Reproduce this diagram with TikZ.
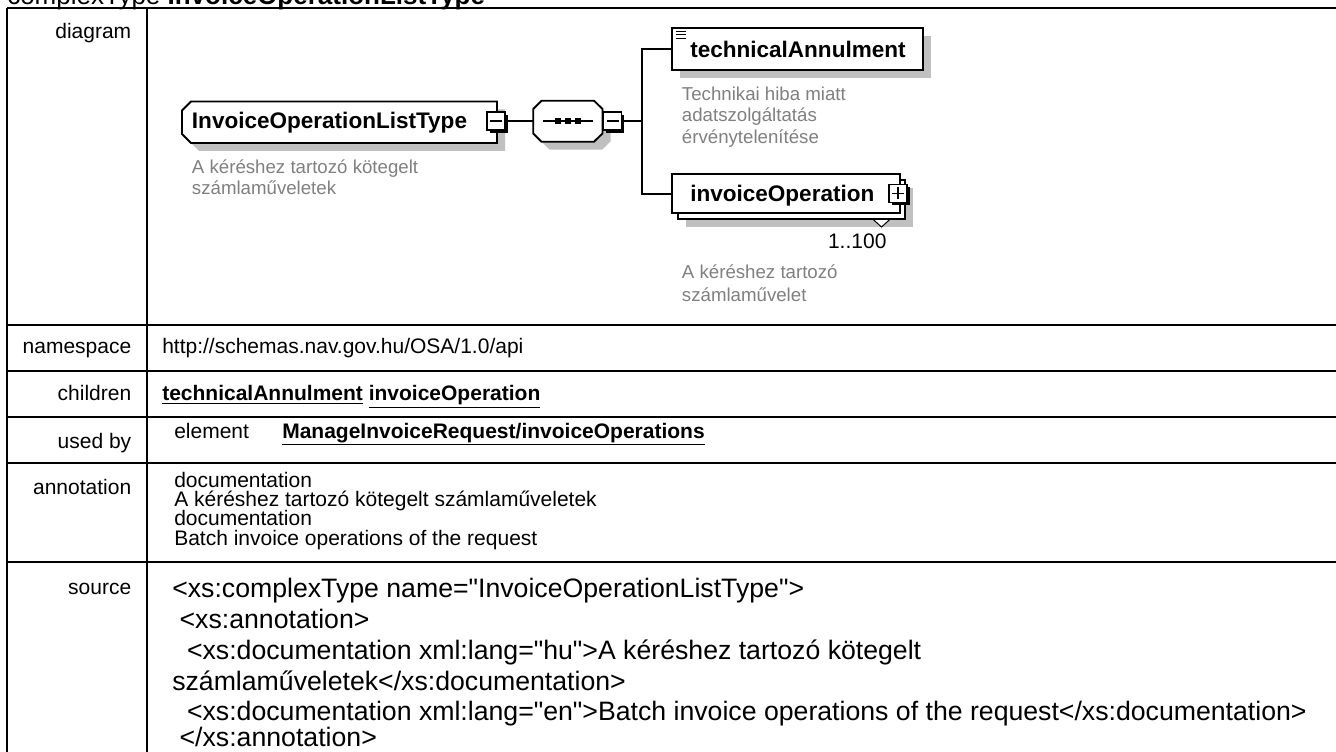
\documentclass[tikz,border=0pt]{standalone}
\usepackage{fontspec}
\setmainfont{Liberation Sans}[Ligatures=TeXOff]
\usetikzlibrary{shadows}
\definecolor{shadowgray}{RGB}{192,192,192}
\definecolor{descgray}{RGB}{128,128,128}
\newcommand\tblfont{\fontsize{15.75pt}{18pt}\selectfont}
\newcommand\srcfont{\fontsize{20pt}{23pt}\selectfont}
\newcommand\ttlfont{\fontsize{19.5pt}{22pt}\selectfont}
\newcommand\nmfont{\bfseries\fontsize{16.9pt}{19pt}\selectfont}
\newcommand\dscfont{\fontsize{14pt}{16.5pt}\selectfont}
\newcommand\occfont{\fontsize{15.75pt}{18pt}\selectfont}
\begin{document}
\begin{tikzpicture}[x=0.75pt,y=-0.75pt,
  tline/.style={line width=1.7pt},
  lbl/.style={anchor=base east, inner sep=0pt, font=\tblfont},
  cell/.style={anchor=base west, inner sep=0pt, font=\tblfont},
  src/.style={anchor=base west, inner sep=0pt, font=\srcfont},
  nm/.style={anchor=base west, inner sep=0pt, font=\nmfont},
  desc/.style={anchor=base west, inner sep=0pt, font=\dscfont, text=descgray},
  shd/.style={drop shadow={shadow xshift=6pt, shadow yshift=-6pt, fill=shadowgray, opacity=1}},
  elbox/.style={draw=black, line width=1.4pt, fill=white, inner sep=0pt},
  btn/.style={draw=black, line width=0.8pt, fill=white, minimum size=13.5pt, inner sep=0pt,
    drop shadow={shadow xshift=1.9pt, shadow yshift=-1.9pt, fill=black, opacity=1}},
  conn/.style={line width=1.4pt},
  sign/.style={line width=0.9pt},
]
\useasboundingbox (0,0) rectangle (1336,752);
\fill[white] (0,0) rectangle (1336,752);
\clip (0,0) rectangle (1336,752);

% title (cut off at top)
\node[anchor=base west, inner sep=0pt, font=\ttlfont] (title) at (7,5) {complexType \textbf{InvoiceOperationListType}};

% table grid
\draw[tline] (7,8) -- (1345,8);
\draw[tline] (7,8) -- (7,760);
\draw[tline] (147,8) -- (147,760);
\foreach \yy in {325,371,417,463,562} \draw[tline] (7,\yy) -- (1345,\yy);

% labels
\node[lbl] (lDiagram) at (131.5,39) {diagram};
\node[lbl] (lNs) at (131.5,354) {namespace};
\node[lbl] (lCh) at (131.5,401) {children};
\node[lbl] (lUb) at (131.5,448) {used by};
\node[lbl] (lAn) at (131.5,494) {annotation};
\node[lbl] (lSrc) at (131.5,594) {source};

% cells
\node[cell] (cNs) at (162,354) {http://schemas.nav.gov.hu/OSA/1.0/api};
\node[cell] (cCh) at (162,401) {\textbf{\underline{technicalAnnulment}} \textbf{\underline{invoiceOperation}}};
\node[cell] (cUbE) at (174,438) {element};
\node[cell] (cUbR) at (282,438) {\textbf{\underline{ManageInvoiceRequest/invoiceOperations}}};
\node[cell] (cAn1) at (174,487) {documentation};
\node[cell] (cAn2) at (174,506) {A kéréshez tartozó kötegelt számlaműveletek};
\node[cell] (cAn3) at (174,525.5) {documentation};
\node[cell] (cAn4) at (174,545) {Batch invoice operations of the request};

% source
\node[src] (s1) at (172,597) {<xs:complexType name="InvoiceOperationListType">};
\node[src] (s2) at (179.4,628) {<xs:annotation>};
\node[src] (s3) at (186.8,659) {<xs:documentation xml:lang="hu">A kéréshez tartozó kötegelt};
\node[src] (s4) at (172,690) {számlaműveletek</xs:documentation>};
\node[src] (s5) at (186.8,720.5) {<xs:documentation xml:lang="en">Batch invoice operations of the request</xs:documentation>};
\node[src] (s6) at (179.4,746) {</xs:annotation>};

% ---- diagram ----
% complex type box
\draw[line width=1.4pt, fill=white, shd] (182,110.5) -- (191,101.5) -- (497,101.5) -- (497,143) -- (191,143) -- (182,134) -- cycle;
\node[nm] (ctName) at (191.7,128.8) {InvoiceOperationListType};
\node[btn] (ctBtn) at (496,121) {};
\draw[sign] ([xshift=-4.5pt]ctBtn.center) -- ([xshift=4.5pt]ctBtn.center);
\node[desc] (ctD1) at (191.7,173.4) {A kéréshez tartozó kötegelt};
\node[desc] (ctD2) at (191.7,195) {számlaműveletek};

% sequence compositor
\coordinate (seqL) at (533.3,121);
\draw[conn] (ctBtn.east) -- (seqL);
\draw[line width=1.4pt, fill=white, shd] (533.3,109) -- (541.5,100.7) -- (594,100.7) -- (602.5,109) -- (602.5,133.5) -- (594,141.7) -- (541.5,141.7) -- (533.3,133.5) -- cycle;
\draw[line width=1.1pt] (543,121) -- (593,121);
\foreach \xx in {558.3,568.3,578.3} \fill (\xx,121) +(-3,-3) rectangle +(3,3);
\node[btn] (seqBtn) at (612.5,121) {};
\draw[sign] ([xshift=-4.5pt]seqBtn.center) -- ([xshift=4.5pt]seqBtn.center);
\coordinate (bus) at (641.7,121);
\draw[conn] (seqBtn.east) -- (bus);

% technicalAnnulment
\node[elbox, shd, minimum width=188.7pt, minimum height=31.3pt] (tA) at (797.5,49.2) {};
\node[nm] (tAName) at (690,57.4) {technicalAnnulment};
\foreach \yy in {31.7,35,38.3} \draw[line width=0.75pt] (676,\yy) -- (686,\yy);
\draw[conn] (tA.west) -| (bus);
\node[desc] (tAD1) at (681.7,100.7) {Technikai hiba miatt};
\node[desc] (tAD2) at (681.7,122) {adatszolgáltatás};
\node[desc] (tAD3) at (681.7,143.5) {érvénytelenítése};

% invoiceOperation
\node[elbox, shd, minimum width=170.25pt, minimum height=29.5pt] (iOback) at (791.5,199.7) {};
\node[elbox, minimum width=171.2pt, minimum height=29.5pt] (iO) at (785.85,193.65) {};
\node[nm] (iOName) at (690,201.4) {invoiceOperation};
\node[btn] (iOBtn) at (898,193.5) {};
\draw[sign] ([xshift=-4.5pt]iOBtn.center) -- ([xshift=4.5pt]iOBtn.center);
\draw[sign] ([yshift=-4.5pt]iOBtn.center) -- ([yshift=4.5pt]iOBtn.center);
\draw[line width=0.75pt, fill=white] (873,219.3) -- (890,219.3) -- (881.5,227) -- cycle;
\draw[conn] (iO.west) -| (bus);
\node[anchor=base east, inner sep=0pt, font=\occfont] (iOocc) at (886.7,248.6) {1..100};
\node[desc] (iOD1) at (681.7,278.4) {A kéréshez tartozó};
\node[desc] (iOD2) at (681.7,301.7) {számlaművelet};
\end{tikzpicture}
\end{document}
